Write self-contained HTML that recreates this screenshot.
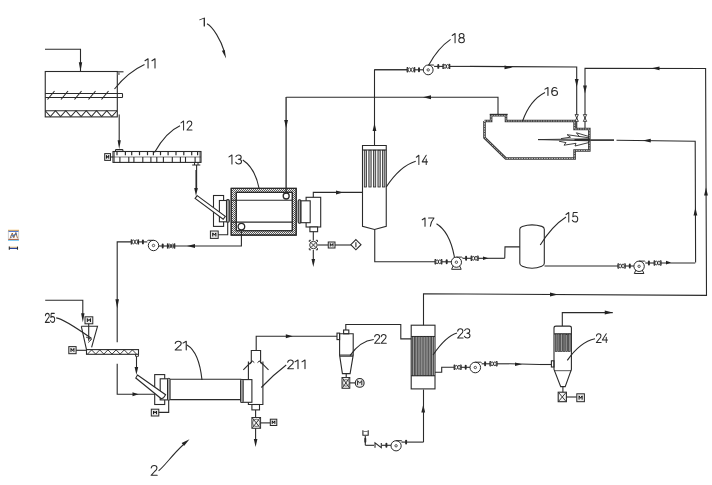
<!DOCTYPE html>
<html><head><meta charset="utf-8"><style>
html,body{margin:0;padding:0;background:#fff;}
svg{display:block;}
text{font-family:"Liberation Sans",sans-serif;fill:#222;stroke:none;}
</style></head><body>
<svg width="712" height="485" viewBox="0 0 712 485" fill="none" stroke="#2a2a2a" stroke-width="1.1">
<defs><pattern id="hatch" width="2" height="2" patternUnits="userSpaceOnUse"><rect width="2" height="2" fill="#ececec" stroke="none"/><rect width="1" height="1" fill="#505050" stroke="none"/><rect x="1" y="1" width="1" height="1" fill="#666" stroke="none"/></pattern></defs>
<rect x="0" y="0" width="712" height="485" fill="#fff" stroke="none"/>
<polyline points="45,49.25 80.5,49.25 80.5,71" fill="none" />
<polygon points="80.50,71.30 78.80,62.30 82.20,62.30" fill="#222" stroke="none"/>
<rect x="45.25" y="71.5" width="72.05" height="45.40" fill="none" />
<line x1="117" y1="71.8" x2="123.5" y2="71.8"/>
<rect x="117.6" y="72.3" width="2.2" height="2.6" fill="#888" stroke="none"/>
<line x1="45.25" y1="93.5" x2="122.5" y2="93.5"/>
<line x1="45.25" y1="97.5" x2="122.5" y2="97.5"/>
<line x1="122.5" y1="93.5" x2="122.5" y2="97.5"/>
<line x1="47.5" y1="99.5" x2="54.5" y2="91"/>
<line x1="61.0" y1="99.5" x2="68.0" y2="91"/>
<line x1="74.5" y1="99.5" x2="81.5" y2="91"/>
<line x1="88.5" y1="99.5" x2="95.5" y2="91"/>
<line x1="101.5" y1="99.5" x2="108.5" y2="91"/>
<line x1="45.25" y1="110.75" x2="117" y2="110.75"/>
<polyline points="45.25,110.75 50.375,116.5 55.5,110.75 60.625,116.5 65.75,110.75 70.875,116.5 76.0,110.75 81.125,116.5 86.25,110.75 91.375,116.5 96.5,110.75 101.625,116.5 106.75,110.75 111.875,116.5 117,110.75" fill="none" />
<path d="M114.5,89 Q128,72 144.5,64.5" />
<g transform="translate(145,58.75) scale(1.0870,1.0278)" stroke-width="0.993" stroke-linecap="round" stroke-linejoin="round"><path transform="translate(0.00,0)" d="M0,1.9 L2.8,0 V9"/><path transform="translate(6.40,0)" d="M0,1.9 L2.8,0 V9"/></g>
<line x1="119.2" y1="114.4" x2="119.2" y2="141"/>
<polygon points="119.20,149.30 117.60,140.30 120.80,140.30" fill="#222" stroke="none"/>
<path d="M115.5,151.5 V150.3 Q115.5,149.6 116.3,149.6 H122.1 Q122.9,149.6 122.9,150.3 V151.5" fill="#fff"/>
<rect x="113" y="151.5" width="88.00" height="10.90" fill="none" />
<line x1="114.2" y1="151.5" x2="114.2" y2="162.4" stroke-width="0.8"/>
<line x1="200" y1="151.5" x2="200" y2="162.4" stroke-width="0.8"/>
<line x1="113" y1="157" x2="201" y2="157" stroke-width="0.6"/>
<line x1="117" y1="151.5" x2="117" y2="155.2" stroke-width="1.2"/>
<line x1="125.4" y1="151.5" x2="125.4" y2="155.2" stroke-width="1.2"/>
<line x1="131.7" y1="151.5" x2="131.7" y2="155.2" stroke-width="1.2"/>
<line x1="139.5" y1="151.5" x2="139.5" y2="155.2" stroke-width="1.2"/>
<line x1="147.5" y1="151.5" x2="147.5" y2="155.2" stroke-width="1.2"/>
<line x1="153.4" y1="151.5" x2="153.4" y2="155.2" stroke-width="1.2"/>
<line x1="160.5" y1="151.5" x2="160.5" y2="155.2" stroke-width="1.2"/>
<line x1="168.1" y1="151.5" x2="168.1" y2="155.2" stroke-width="1.2"/>
<line x1="176" y1="151.5" x2="176" y2="155.2" stroke-width="1.2"/>
<line x1="183.8" y1="151.5" x2="183.8" y2="155.2" stroke-width="1.2"/>
<line x1="191.7" y1="151.5" x2="191.7" y2="155.2" stroke-width="1.2"/>
<line x1="197.6" y1="151.5" x2="197.6" y2="155.2" stroke-width="1.2"/>
<line x1="119.9" y1="157" x2="119.9" y2="162.4" stroke-width="1.1"/>
<line x1="128.8" y1="157" x2="128.8" y2="162.4" stroke-width="1.1"/>
<line x1="133.9" y1="157" x2="133.9" y2="162.4" stroke-width="1.1"/>
<line x1="142.8" y1="157" x2="142.8" y2="162.4" stroke-width="1.1"/>
<line x1="150.9" y1="157" x2="150.9" y2="162.4" stroke-width="1.1"/>
<line x1="156.8" y1="157" x2="156.8" y2="162.4" stroke-width="1.1"/>
<line x1="163.4" y1="157" x2="163.4" y2="162.4" stroke-width="1.1"/>
<line x1="172.3" y1="157" x2="172.3" y2="162.4" stroke-width="1.1"/>
<line x1="180.4" y1="157" x2="180.4" y2="162.4" stroke-width="1.1"/>
<line x1="185.5" y1="157" x2="185.5" y2="162.4" stroke-width="1.1"/>
<line x1="195.1" y1="157" x2="195.1" y2="162.4" stroke-width="1.1"/>
<rect x="104.7" y="153.6" width="5.80" height="6.80" fill="#ececec" stroke-width="1.0"/>
<path d="M106.44,158.63 V155.37 L107.60,157.41 L108.76,155.37 V158.63" stroke-width="1.0" stroke="#111"/>
<line x1="110.5" y1="157" x2="113" y2="157"/>
<path d="M192.2,165 H200.3 M194.5,162.4 V165 M198,162.4 V165" stroke-width="1.0"/>
<line x1="196.6" y1="165" x2="196.6" y2="190"/>
<path d="M154.5,152.5 Q166,132 180,125.75" />
<g transform="translate(181,121) scale(0.9244,1.0000)" stroke-width="1.091" stroke-linecap="round" stroke-linejoin="round"><path transform="translate(0.00,0)" d="M0,1.9 L2.8,0 V9"/><path transform="translate(6.40,0)" d="M0.2,2.3 C0.4,0.7 1.5,0 2.8,0 C4.3,0 5.3,1 5.3,2.4 C5.3,3.7 4.4,4.6 3.2,5.5 L0.1,9 H5.5"/></g>
<path d="M231.2,188.4 H296.2 V235.1 H231.2 Z M236.3,192.4 V230.7 H292.3 V192.4 Z" fill="url(#hatch)" fill-rule="evenodd"/>
<rect x="231.2" y="188.4" width="65.00" height="46.70" fill="none" />
<rect x="236.3" y="192.4" width="56.00" height="38.30" fill="none" />
<line x1="231.2" y1="200.3" x2="292.3" y2="200.3"/>
<line x1="231.2" y1="222.1" x2="292.3" y2="222.1"/>
<circle cx="286.2" cy="196.0" r="3.0" fill="#fff" stroke-width="1.3"/>
<circle cx="241.4" cy="226.6" r="3.3" fill="#fff" stroke-width="1.3"/>
<line x1="286.1" y1="97" x2="286.1" y2="193.2" stroke-width="1.3"/>
<polygon points="286.10,128.00 284.20,120.00 288.00,120.00" fill="#222" stroke="none"/>
<rect x="213.5" y="195.5" width="10.10" height="30.90" fill="#fff" />
<rect x="219.4" y="200.5" width="7.40" height="21.30" fill="#fff" />
<path d="M197.2,195.6 L225.3,216.3 L223.2,219.2 L195.1,198.5 Z" fill="#fff"/>
<line x1="196" y1="170" x2="196" y2="190"/>
<polygon points="196.00,196.00 194.20,188.00 197.80,188.00" fill="#222" stroke="none"/>
<rect x="226.5" y="199.6" width="2.8" height="22.7" rx="1.2" fill="#aaa" stroke-width="1.1"/>
<rect x="210.4" y="231" width="7.80" height="7.40" fill="#ececec" stroke-width="1.0"/>
<path d="M212.74,236.48 V232.92 L214.30,235.14 L215.86,232.92 V236.48" stroke-width="1.0" stroke="#111"/>
<polyline points="218.2,234.7 227.7,234.7 227.7,222.3" fill="none" />
<rect x="298.2" y="199.8" width="2.7" height="23.5" rx="1.2" fill="#aaa" stroke-width="1.1"/>
<rect x="306.1" y="197.3" width="14.60" height="29.70" fill="#fff" />
<rect x="301" y="200.8" width="9.20" height="21.90" fill="#fff" />
<polyline points="313.3,197.3 313.3,192.4 362.5,192.4" fill="none" />
<polygon points="343.00,192.40 336.00,190.40 336.00,194.40" fill="#222" stroke="none"/>
<rect x="309.9" y="227" width="7.70" height="4.70" fill="#fff" />
<line x1="313.3" y1="231.7" x2="313.3" y2="240.5"/>
<circle cx="313.4" cy="245.05" r="3.771999999999995" fill="#f4f4f4" stroke-width="0.9"/>
<line x1="310.73499999999996" y1="242.38500000000002" x2="316.065" y2="247.715" stroke-width="0.9"/>
<line x1="310.73499999999996" y1="247.715" x2="316.065" y2="242.38500000000002" stroke-width="0.9"/>
<path d="M309.3,241.9 V240.3 H310.90000000000003 M315.9,240.3 H317.5 V241.9 M317.5,248.20000000000002 V249.8 H315.9 M310.90000000000003,249.8 H309.3 V248.20000000000002" stroke-width="1.0"/>
<line x1="317.5" y1="245" x2="328.25" y2="245"/>
<rect x="328.25" y="242" width="6.75" height="6.00" fill="#ececec" stroke-width="1.0"/>
<path d="M330.27,246.44 V243.56 L331.62,245.36 L332.98,243.56 V246.44" stroke-width="1.0" stroke="#111"/>
<line x1="335" y1="245" x2="350.8" y2="245"/>
<path d="M355.9,239.6 L361,244.7 L355.9,249.8 L350.8,244.7 Z" fill="#fff"/>
<line x1="355.9" y1="242.3" x2="355.9" y2="247.2"/>
<line x1="313.3" y1="250" x2="313.3" y2="262"/>
<polygon points="313.30,267.00 311.50,259.00 315.10,259.00" fill="#222" stroke="none"/>
<path d="M242.75,160 Q255,168 259,188" />
<g transform="translate(229,155) scale(1.0504,1.0000)" stroke-width="1.024" stroke-linecap="round" stroke-linejoin="round"><path transform="translate(0.00,0)" d="M0,1.9 L2.8,0 V9"/><path transform="translate(6.40,0)" d="M0.2,1.6 C0.8,0.5 1.8,0 2.8,0 C4.2,0 5.2,0.9 5.2,2.2 C5.2,3.5 4.2,4.3 2.5,4.3 C4.4,4.3 5.5,5.3 5.5,6.6 C5.5,8.1 4.3,9 2.8,9 C1.5,9 0.5,8.4 0,7.3"/></g>
<path d="M362.5,145.5 H386.25 V226.25 L374.5,229.5 L362.5,226.25 Z" />
<line x1="362.5" y1="150" x2="386.25" y2="150"/>
<rect x="364.30" y="150.3" width="2.3" height="36.7" fill="#bbb" stroke-width="0.8"/>
<rect x="368.85" y="150.3" width="2.3" height="36.7" fill="#bbb" stroke-width="0.8"/>
<rect x="373.40" y="150.3" width="2.3" height="36.7" fill="#bbb" stroke-width="0.8"/>
<rect x="377.95" y="150.3" width="2.3" height="36.7" fill="#bbb" stroke-width="0.8"/>
<rect x="382.50" y="150.3" width="2.3" height="36.7" fill="#bbb" stroke-width="0.8"/>
<line x1="374.5" y1="69.5" x2="374.5" y2="145.5"/>
<polygon points="374.50,123.00 372.60,131.00 376.40,131.00" fill="#222" stroke="none"/>
<line x1="330" y1="192.5" x2="362.5" y2="192.5"/>
<path d="M386.25,187 Q400,166 415.75,161.25" />
<g transform="translate(416.3,155.3) scale(0.9180,1.0222)" stroke-width="1.082" stroke-linecap="round" stroke-linejoin="round"><path transform="translate(0.00,0)" d="M0,1.9 L2.8,0 V9"/><path transform="translate(6.40,0)" d="M4.4,0 L0,6.4 H5.8 M4.4,3.6 V9"/></g>
<polyline points="498,114.5 498,97.25 286.25,97.25" fill="none" />
<polygon points="423.00,97.25 431.00,95.35 431.00,99.15" fill="#222" stroke="none"/>
<line x1="374.5" y1="69.8" x2="407.2" y2="69.8"/>
<line x1="374.5" y1="69.8" x2="407.2" y2="69.8"/>
<path d="M407.2,67.3 V72.3 M414.7,67.3 V72.3 M407.2,67.7 H408.09999999999997 M407.2,71.89999999999999 H408.09999999999997 M414.7,67.7 H413.8 M414.7,71.89999999999999 H413.8" stroke-width="1.2"/>
<ellipse cx="409.45" cy="69.8" rx="1.35" ry="1.90" stroke-width="0.9"/>
<ellipse cx="412.45" cy="69.8" rx="1.35" ry="1.90" stroke-width="0.9"/>
<line x1="414.7" y1="69.8" x2="423.3" y2="69.8"/>
<line x1="419" y1="68.3" x2="419" y2="71.3" stroke-width="1.9" stroke-linecap="round"/>
<circle cx="428.2" cy="69.9" r="4.9" fill="none" stroke-width="1.0"/>
<circle cx="428.2" cy="69.9" r="1.2" fill="none" stroke-width="0.8"/>
<path d="M428.2,65.0 H433.09999999999997 Q433.7,65.0 434.09999999999997,65.4" stroke-width="1.0"/>
<line x1="434.09999999999997" y1="66.4" x2="443" y2="66.4"/>
<line x1="438.3" y1="64.9" x2="438.3" y2="67.9" stroke-width="1.9" stroke-linecap="round"/>
<path d="M443,63.900000000000006 V68.9 M449.7,63.900000000000006 V68.9 M443,64.30000000000001 H443.9 M443,68.5 H443.9 M449.7,64.30000000000001 H448.8 M449.7,68.5 H448.8" stroke-width="1.2"/>
<ellipse cx="445.01" cy="66.4" rx="1.34" ry="1.90" stroke-width="0.9"/>
<ellipse cx="447.69" cy="66.4" rx="1.34" ry="1.90" stroke-width="0.9"/>
<line x1="449.7" y1="66.4" x2="470" y2="66.4"/>
<polyline points="470,66.4 576.7,67 576.7,129" fill="none" />
<polygon points="512.50,67.40 504.50,65.50 504.50,69.30" fill="#222" stroke="none"/>
<polygon points="576.70,87.00 574.80,79.00 578.60,79.00" fill="#222" stroke="none"/>
<polygon points="585.00,93.50 583.10,85.50 586.90,85.50" fill="#222" stroke="none"/>
<path d="M428.6,65.2 Q438,48 450.6,39.4" />
<g transform="translate(452.2,33.5) scale(1.0252,1.0278)" stroke-width="1.023" stroke-linecap="round" stroke-linejoin="round"><path transform="translate(0.00,0)" d="M0,1.9 L2.8,0 V9"/><path transform="translate(6.40,0)" d="M2.75,4.2 C1.3,4.2 0.4,3.3 0.4,2.1 C0.4,0.9 1.4,0 2.75,0 C4.1,0 5.1,0.9 5.1,2.1 C5.1,3.3 4.2,4.2 2.75,4.2 C1.1,4.2 0,5.2 0,6.6 C0,8 1.1,9 2.75,9 C4.4,9 5.5,8 5.5,6.6 C5.5,5.2 4.4,4.2 2.75,4.2 Z"/></g>
<polyline points="585,129 585,68.2 705.6,68.5 706.5,295.4 423.5,293.7 423.5,325.2" fill="none" />
<polygon points="651.50,68.30 659.50,66.40 659.50,70.20" fill="#222" stroke="none"/>
<polygon points="706.00,187.50 704.10,195.50 707.90,195.50" fill="#222" stroke="none"/>
<polygon points="558.00,294.50 550.00,292.60 550.00,296.40" fill="#222" stroke="none"/>
<polyline points="484.5,121.0 491.1,121.0 491.1,115.3 506.0,115.3 506.0,121.0 574.6,121.0 574.6,129.0 589.3,129.0 589.3,150.5 574.6,150.5 574.6,158.5 505.8,158.5 484.5,137.6 484.5,121.0" fill="none" stroke="#3a3a3a" stroke-width="2.6" stroke-linejoin="miter"/>
<polyline points="484.5,121.0 491.1,121.0 491.1,115.3 506.0,115.3 506.0,121.0 574.6,121.0 574.6,129.0 589.3,129.0 589.3,150.5 574.6,150.5 574.6,158.5 505.8,158.5 484.5,137.6 484.5,121.0" fill="none" stroke="#d8d8d8" stroke-width="0.8" stroke-dasharray="1.6 0.9" stroke-linejoin="miter"/>
<line x1="489.8" y1="114.3" x2="507.7" y2="114.3" stroke-width="1.0"/>
<path d="M575.0,114.6 H578.4000000000001 L575.0,121.4 H578.4000000000001 Z" fill="#fff" stroke-width="0.85"/>
<path d="M583.3,114.6 H586.7 L583.3,121.4 H586.7 Z" fill="#fff" stroke-width="0.85"/>
<path d="M590,138.8 L538,139.6 L590,140.8" fill="none" stroke-width="0.9"/>
<path d="M589,136.5 L576.4,132.8 L579.5,136.8 M589,137.8 L567.1,134.7 L570.5,137.2 L561,138.6" fill="none" stroke-width="0.9"/>
<path d="M589,142.5 L575,146 L576,143.3 L564,145.2 L566,142.6 L559,141.2" fill="none" stroke-width="0.9"/>
<line x1="574.5" y1="139.9" x2="590" y2="139.9" stroke-width="1.8"/>
<polyline points="590.25,140.1 614,140.1" fill="none" stroke-width="1.6"/>
<polyline points="616.5,140.3 695.2,141.2 695.6,262.5" fill="none" />
<polygon points="642.75,140.60 650.75,138.70 650.75,142.50" fill="#222" stroke="none"/>
<polygon points="695.40,207.50 693.50,215.50 697.30,215.50" fill="#222" stroke="none"/>
<path d="M522.5,121.25 Q530,100 545,92.5" />
<g transform="translate(545,87.5) scale(1.0504,0.8889)" stroke-width="1.083" stroke-linecap="round" stroke-linejoin="round"><path transform="translate(0.00,0)" d="M0,1.9 L2.8,0 V9"/><path transform="translate(6.40,0)" d="M4.8,0.9 C4.2,0.3 3.5,0 2.8,0 C1,0 0,1.9 0,4.8 C0,7.5 1.1,9 2.8,9 C4.4,9 5.5,7.8 5.5,6.1 C5.5,4.4 4.4,3.3 2.8,3.3 C1.4,3.3 0.3,4.2 0,5.5"/></g>
<path d="M519.8,229.3 Q519.8,227.2 522.3,226.4 Q532,223.4 541.8,226.4 Q544.3,227.2 544.3,229.3 V263.3 Q544.3,265.4 541.8,266.3 Q532,270.2 522.3,266.3 Q519.8,265.4 519.8,263.3 Z" />
<line x1="544.5" y1="266" x2="618" y2="266"/>
<path d="M618,263.5 V268.5 M625.2,263.5 V268.5 M618,263.9 H618.9 M618,268.1 H618.9 M625.2,263.9 H624.3000000000001 M625.2,268.1 H624.3000000000001" stroke-width="1.2"/>
<ellipse cx="620.16" cy="266" rx="1.35" ry="1.90" stroke-width="0.9"/>
<ellipse cx="623.04" cy="266" rx="1.35" ry="1.90" stroke-width="0.9"/>
<line x1="625.2" y1="266" x2="633.9" y2="266"/>
<line x1="629.8" y1="264.5" x2="629.8" y2="267.5" stroke-width="1.9" stroke-linecap="round"/>
<circle cx="639.1" cy="266.3" r="5.2" fill="none" stroke-width="1.0"/>
<circle cx="639.1" cy="266.3" r="1.2" fill="none" stroke-width="0.8"/>
<path d="M639.1,261.1 H644.3000000000001 Q644.9,261.1 645.3000000000001,261.5" stroke-width="1.0"/>
<path d="M635.9,270.0 L634.3000000000001,273.5 H643.9 L642.3000000000001,270.0" stroke-width="1.0"/>
<line x1="645.3000000000001" y1="263" x2="654.2" y2="263"/>
<line x1="648.9" y1="261.5" x2="648.9" y2="264.5" stroke-width="1.9" stroke-linecap="round"/>
<path d="M654.2,260.5 V265.5 M661,260.5 V265.5 M654.2,260.9 H655.1 M654.2,265.1 H655.1 M661,260.9 H660.1 M661,265.1 H660.1" stroke-width="1.2"/>
<ellipse cx="656.24" cy="263" rx="1.35" ry="1.90" stroke-width="0.9"/>
<ellipse cx="658.96" cy="263" rx="1.35" ry="1.90" stroke-width="0.9"/>
<line x1="661" y1="263" x2="695.25" y2="263"/>
<polygon points="671.00,262.60 666.00,260.80 666.00,264.40" fill="#222" stroke="none"/>
<path d="M540.25,245 Q552,226 566,217" />
<g transform="translate(566,212.5) scale(0.9874,1.0556)" stroke-width="1.028" stroke-linecap="round" stroke-linejoin="round"><path transform="translate(0.00,0)" d="M0,1.9 L2.8,0 V9"/><path transform="translate(6.40,0)" d="M5,0 H1 L0.5,4 C1.2,3.5 2,3.3 2.8,3.3 C4.4,3.3 5.5,4.4 5.5,6.1 C5.5,7.8 4.3,9 2.7,9 C1.4,9 0.4,8.3 0,7.3"/></g>
<polyline points="374.75,229.5 374.75,261.8 435.1,261.8" fill="none" />
<line x1="435.1" y1="261.8" x2="435.1" y2="261.8"/>
<path d="M435.1,259.3 V264.3 M441.8,259.3 V264.3 M435.1,259.7 H436.0 M435.1,263.90000000000003 H436.0 M441.8,259.7 H440.90000000000003 M441.8,263.90000000000003 H440.90000000000003" stroke-width="1.2"/>
<ellipse cx="437.11" cy="261.8" rx="1.34" ry="1.90" stroke-width="0.9"/>
<ellipse cx="439.79" cy="261.8" rx="1.34" ry="1.90" stroke-width="0.9"/>
<line x1="441.8" y1="261.8" x2="451.29999999999995" y2="261.8"/>
<line x1="446.7" y1="260.3" x2="446.7" y2="263.3" stroke-width="1.9" stroke-linecap="round"/>
<circle cx="456.4" cy="262.2" r="5.1" fill="none" stroke-width="1.0"/>
<circle cx="456.4" cy="262.2" r="1.2" fill="none" stroke-width="0.8"/>
<path d="M456.4,257.09999999999997 H461.5 Q462.09999999999997,257.09999999999997 462.5,257.49999999999994" stroke-width="1.0"/>
<path d="M453.2,265.8 L451.59999999999997,269.3 H461.2 L459.59999999999997,265.8" stroke-width="1.0"/>
<line x1="462.5" y1="258.3" x2="471.2" y2="258.3"/>
<line x1="466.1" y1="256.8" x2="466.1" y2="259.8" stroke-width="1.9" stroke-linecap="round"/>
<path d="M471.2,255.8 V260.8 M478.1,255.8 V260.8 M471.2,256.2 H472.09999999999997 M471.2,260.40000000000003 H472.09999999999997 M478.1,256.2 H477.20000000000005 M478.1,260.40000000000003 H477.20000000000005" stroke-width="1.2"/>
<ellipse cx="473.27" cy="258.3" rx="1.35" ry="1.90" stroke-width="0.9"/>
<ellipse cx="476.03" cy="258.3" rx="1.35" ry="1.90" stroke-width="0.9"/>
<line x1="478.1" y1="258.3" x2="504.75" y2="258.3"/>
<polyline points="504.75,258.3 505,246.9 519.8,246.9" fill="none" />
<polygon points="488.50,258.30 483.00,256.50 483.00,260.10" fill="#222" stroke="none"/>
<path d="M436.5,223.75 Q450,232 454.5,257.6" />
<g transform="translate(422.25,218) scale(0.9874,0.9167)" stroke-width="1.103" stroke-linecap="round" stroke-linejoin="round"><path transform="translate(0.00,0)" d="M0,1.9 L2.8,0 V9"/><path transform="translate(6.40,0)" d="M0,0 H5.5 C3.5,2.5 2.2,5.5 1.8,9"/></g>
<polyline points="241.4,229.9 241.4,246 174.7,246" fill="none" />
<polygon points="187.00,246.00 195.00,244.10 195.00,247.90" fill="#222" stroke="none"/>
<line x1="174.7" y1="246" x2="167.5" y2="246"/>
<path d="M167.5,243.5 V248.5 M174.7,243.5 V248.5 M167.5,243.9 H168.4 M167.5,248.1 H168.4 M174.7,243.9 H173.79999999999998 M174.7,248.1 H173.79999999999998" stroke-width="1.2"/>
<ellipse cx="169.66" cy="246" rx="1.35" ry="1.90" stroke-width="0.9"/>
<ellipse cx="172.54" cy="246" rx="1.35" ry="1.90" stroke-width="0.9"/>
<line x1="167.5" y1="246" x2="158.7" y2="246"/>
<line x1="162.7" y1="244.5" x2="162.7" y2="247.5" stroke-width="1.9" stroke-linecap="round"/>
<circle cx="153.5" cy="245.5" r="5.2" fill="none" stroke-width="1.0"/>
<circle cx="153.5" cy="245.5" r="1.2" fill="none" stroke-width="0.8"/>
<path d="M153.5,240.3 H148.3 Q147.7,240.3 147.3,240.70000000000002" stroke-width="1.0"/>
<line x1="147.3" y1="241.9" x2="138.5" y2="241.9"/>
<line x1="142.9" y1="240.4" x2="142.9" y2="243.4" stroke-width="1.9" stroke-linecap="round"/>
<path d="M131.3,239.4 V244.4 M138.5,239.4 V244.4 M131.3,239.8 H132.20000000000002 M131.3,244.0 H132.20000000000002 M138.5,239.8 H137.6 M138.5,244.0 H137.6" stroke-width="1.2"/>
<ellipse cx="133.46" cy="241.9" rx="1.35" ry="1.90" stroke-width="0.9"/>
<ellipse cx="136.34" cy="241.9" rx="1.35" ry="1.90" stroke-width="0.9"/>
<line x1="131.3" y1="241.9" x2="131.3" y2="241.9"/>
<polyline points="131.2,241.9 117.2,241.9 117.2,342.2" fill="none" />
<polyline points="117.2,363.75 117.2,394.3 154.7,394.3" fill="none" />
<polygon points="117.20,308.30 115.40,299.30 119.00,299.30" fill="#222" stroke="none"/>
<polygon points="138.50,394.30 132.50,392.30 132.50,396.30" fill="#222" stroke="none"/>
<polyline points="45.2,300.2 82.8,300.2 82.8,314" fill="none" />
<polygon points="82.80,322.30 81.10,313.30 84.50,313.30" fill="#222" stroke="none"/>
<rect x="85" y="316.8" width="7.80" height="7.00" fill="#ececec" stroke-width="1.0"/>
<path d="M87.34,321.98 V318.62 L88.90,320.72 L90.46,318.62 V321.98" stroke-width="1.0" stroke="#111"/>
<line x1="88.7" y1="323.8" x2="88.7" y2="340.7"/>
<path d="M81.3,326.3 H97.5 L91.6,347.4 M81.3,326.3 L86.5,349.6" />
<path d="M86,337 L91.5,339.5 L88.2,342.5" stroke-width="0.9"/>
<rect x="86.5" y="349.6" width="52.00" height="4.70" fill="none" />
<polyline points="87.5,354.1 91.58333333333333,349.9 95.66666666666667,354.1 99.75,349.9 103.83333333333333,354.1 107.91666666666666,349.9 112.0,354.1 116.08333333333333,349.9 120.16666666666666,354.1 124.25,349.9 128.33333333333331,354.1 132.41666666666666,349.9 136.5,354.1" fill="none" stroke-width="0.9"/>
<path d="M135.5,354.3 V356.3 H138.5 V354.3" stroke-width="0.9"/>
<line x1="136.5" y1="356.3" x2="136.5" y2="368"/>
<polygon points="136.40,375.00 134.60,367.00 138.20,367.00" fill="#222" stroke="none"/>
<rect x="68.8" y="346.6" width="7.30" height="7.10" fill="#ececec" stroke-width="1.0"/>
<path d="M70.99,351.85 V348.45 L72.45,350.58 L73.91,348.45 V351.85" stroke-width="1.0" stroke="#111"/>
<line x1="76.1" y1="350.3" x2="86.5" y2="350.3"/>
<path d="M56.2,317.9 Q63,318.5 91.6,338.5" />
<g transform="translate(45.2,313.4) scale(0.7724,0.9889)" stroke-width="1.192" stroke-linecap="round" stroke-linejoin="round"><path transform="translate(0.00,0)" d="M0.2,2.3 C0.4,0.7 1.5,0 2.8,0 C4.3,0 5.3,1 5.3,2.4 C5.3,3.7 4.4,4.6 3.2,5.5 L0.1,9 H5.5"/><path transform="translate(6.80,0)" d="M5,0 H1 L0.5,4 C1.2,3.5 2,3.3 2.8,3.3 C4.4,3.3 5.5,4.4 5.5,6.1 C5.5,7.8 4.3,9 2.7,9 C1.4,9 0.4,8.3 0,7.3"/></g>
<rect x="154.7" y="374.6" width="10.00" height="29.90" fill="#fff" />
<rect x="160.2" y="378.8" width="7.70" height="21.10" fill="#fff" />
<path d="M137.5,375 L165.6,394.7 L163.5,397.8 L161.3,398.8 L135.8,378 Z" fill="#fff"/>
<rect x="167.5" y="378.4" width="2.6" height="21.8" rx="1" fill="#aaa" stroke-width="1.0"/>
<line x1="170.1" y1="379.2" x2="241" y2="379.2"/>
<line x1="170.1" y1="399.6" x2="241" y2="399.6"/>
<rect x="151.3" y="409.2" width="7.50" height="6.80" fill="#ececec" stroke-width="1.0"/>
<path d="M153.55,414.23 V410.97 L155.05,413.01 L156.55,410.97 V414.23" stroke-width="1.0" stroke="#111"/>
<polyline points="158.8,412.4 168.7,412.4 168.7,400.2" fill="none" />
<path d="M187,345 Q199,352 202,380" />
<g transform="translate(175,341.25) scale(1.1719,0.9722)" stroke-width="0.979" stroke-linecap="round" stroke-linejoin="round"><path transform="translate(0.00,0)" d="M0.2,2.3 C0.4,0.7 1.5,0 2.8,0 C4.3,0 5.3,1 5.3,2.4 C5.3,3.7 4.4,4.6 3.2,5.5 L0.1,9 H5.5"/><path transform="translate(6.80,0)" d="M0,1.9 L2.8,0 V9"/></g>
<path d="M248.4,361.5 V404.5 H262.9 V361.5" fill="#fff"/>
<rect x="241.1" y="379.6" width="10.80" height="22.70" fill="#fff" />
<rect x="240.6" y="379.4" width="2.6" height="23.1" rx="1" fill="#aaa" stroke-width="1.0"/>
<path d="M251.3,361.5 V350.5 H260.6 V361.5" />
<line x1="252" y1="361.2" x2="243.3" y2="369.8"/>
<line x1="259.8" y1="361.2" x2="268.5" y2="369.8"/>
<path d="M250.2,364.2 L252.3,360.9 L254.3,362.6 M261.6,364.2 L259.5,360.9 L257.5,362.6" stroke-width="1.0"/>
<rect x="251.9" y="404.5" width="7.60" height="5.40" fill="#fff" />
<line x1="255.6" y1="409.9" x2="255.6" y2="417.5"/>
<rect x="251.9" y="417.5" width="8.70" height="10.80" fill="#f0f0f0" stroke-width="0.95"/>
<circle cx="256.25" cy="422.9" r="3.6975000000000073" fill="none" stroke-width="0.6"/>
<line x1="252.3" y1="417.9" x2="260.20000000000005" y2="427.90000000000003" stroke-width="0.9"/>
<line x1="252.3" y1="427.90000000000003" x2="260.20000000000005" y2="417.9" stroke-width="0.9"/>
<line x1="260.6" y1="422.9" x2="270.3" y2="422.9"/>
<rect x="270.3" y="419.2" width="6.50" height="6.30" fill="#ececec" stroke-width="1.0"/>
<path d="M272.25,423.86 V420.84 L273.55,422.73 L274.85,420.84 V423.86" stroke-width="1.0" stroke="#111"/>
<line x1="255.6" y1="428.3" x2="255.6" y2="440"/>
<polygon points="255.60,447.00 253.80,439.00 257.40,439.00" fill="#222" stroke="none"/>
<polyline points="256.2,350.5 256.2,336.3 337,336.3" fill="none" />
<polygon points="292.80,336.30 285.80,334.30 285.80,338.30" fill="#222" stroke="none"/>
<path d="M261.3,387.5 Q273,375 286.2,365" />
<g transform="translate(287.5,360) scale(1.0938,0.9722)" stroke-width="1.016" stroke-linecap="round" stroke-linejoin="round"><path transform="translate(0.00,0)" d="M0.2,2.3 C0.4,0.7 1.5,0 2.8,0 C4.3,0 5.3,1 5.3,2.4 C5.3,3.7 4.4,4.6 3.2,5.5 L0.1,9 H5.5"/><path transform="translate(6.80,0)" d="M0,1.9 L2.8,0 V9"/><path transform="translate(13.20,0)" d="M0,1.9 L2.8,0 V9"/></g>
<rect x="337" y="333.1" width="2.60" height="6.50" fill="#fff" />
<path d="M339.6,333.8 H353.2 V355.1 L350.1,373.6 H342.4 L339.6,355.1 Z" />
<line x1="339.6" y1="355.1" x2="353.2" y2="355.1"/>
<line x1="339.8" y1="356.4" x2="353" y2="356.4" stroke-width="0.8"/>
<rect x="343.6" y="330" width="5.20" height="3.80" fill="none" />
<polyline points="345.8,330 345.8,324.5 400.8,324.5 400.8,338.9 411.2,338.9" fill="none" />
<line x1="346.2" y1="373.6" x2="346.2" y2="377.5"/>
<rect x="342" y="377.5" width="7.80" height="10.80" fill="#f0f0f0" stroke-width="0.95"/>
<circle cx="345.9" cy="382.9" r="3.315000000000005" fill="none" stroke-width="0.6"/>
<line x1="342.4" y1="377.9" x2="349.40000000000003" y2="387.90000000000003" stroke-width="0.9"/>
<line x1="342.4" y1="387.90000000000003" x2="349.40000000000003" y2="377.9" stroke-width="0.9"/>
<line x1="349.8" y1="382.9" x2="355.3" y2="382.9"/>
<circle cx="359.7" cy="382.9" r="4.4" fill="#eee" />
<path d="M357.6,385.2 V380.6 L359.7,383.2 L361.8,380.6 V385.2" stroke-width="1.0"/>
<path d="M350,355.6 Q360,341 373.75,339.5" />
<g transform="translate(374.5,334.5) scale(0.9553,0.9722)" stroke-width="1.089" stroke-linecap="round" stroke-linejoin="round"><path transform="translate(0.00,0)" d="M0.2,2.3 C0.4,0.7 1.5,0 2.8,0 C4.3,0 5.3,1 5.3,2.4 C5.3,3.7 4.4,4.6 3.2,5.5 L0.1,9 H5.5"/><path transform="translate(6.80,0)" d="M0.2,2.3 C0.4,0.7 1.5,0 2.8,0 C4.3,0 5.3,1 5.3,2.4 C5.3,3.7 4.4,4.6 3.2,5.5 L0.1,9 H5.5"/></g>
<rect x="411.2" y="325.2" width="23.80" height="63.70" fill="none" />
<line x1="411.2" y1="336.5" x2="435" y2="336.5"/>
<line x1="411.2" y1="375.7" x2="435" y2="375.7"/>
<rect x="412.60" y="336.5" width="2.0" height="39.2" fill="#999" stroke-width="0.75"/>
<rect x="415.73" y="336.5" width="2.0" height="39.2" fill="#999" stroke-width="0.75"/>
<rect x="418.86" y="336.5" width="2.0" height="39.2" fill="#999" stroke-width="0.75"/>
<rect x="421.99" y="336.5" width="2.0" height="39.2" fill="#999" stroke-width="0.75"/>
<rect x="425.12" y="336.5" width="2.0" height="39.2" fill="#999" stroke-width="0.75"/>
<rect x="428.25" y="336.5" width="2.0" height="39.2" fill="#999" stroke-width="0.75"/>
<rect x="431.38" y="336.5" width="2.0" height="39.2" fill="#999" stroke-width="0.75"/>
<polygon points="423.25,404.50 421.35,412.50 425.15,412.50" fill="#222" stroke="none"/>
<polyline points="435,372.2 441.7,372.2 441.7,367.3 454.2,367.3" fill="none" />
<line x1="454.2" y1="367.3" x2="454.2" y2="367.3"/>
<path d="M454.2,364.8 V369.8 M461.1,364.8 V369.8 M454.2,365.2 H455.09999999999997 M454.2,369.40000000000003 H455.09999999999997 M461.1,365.2 H460.20000000000005 M461.1,369.40000000000003 H460.20000000000005" stroke-width="1.2"/>
<ellipse cx="456.27" cy="367.3" rx="1.35" ry="1.90" stroke-width="0.9"/>
<ellipse cx="459.03" cy="367.3" rx="1.35" ry="1.90" stroke-width="0.9"/>
<line x1="461.1" y1="367.3" x2="470.0" y2="367.3"/>
<line x1="465.7" y1="365.8" x2="465.7" y2="368.8" stroke-width="1.9" stroke-linecap="round"/>
<circle cx="475.3" cy="367.5" r="5.3" fill="none" stroke-width="1.0"/>
<circle cx="475.3" cy="367.5" r="1.2" fill="none" stroke-width="0.8"/>
<path d="M475.3,362.2 H480.6 Q481.2,362.2 481.6,362.59999999999997" stroke-width="1.0"/>
<line x1="481.6" y1="363.8" x2="490" y2="363.8"/>
<line x1="485.1" y1="362.3" x2="485.1" y2="365.3" stroke-width="1.9" stroke-linecap="round"/>
<path d="M490,361.3 V366.3 M497,361.3 V366.3 M490,361.7 H490.9 M490,365.90000000000003 H490.9 M497,361.7 H496.1 M497,365.90000000000003 H496.1" stroke-width="1.2"/>
<ellipse cx="492.10" cy="363.8" rx="1.35" ry="1.90" stroke-width="0.9"/>
<ellipse cx="494.90" cy="363.8" rx="1.35" ry="1.90" stroke-width="0.9"/>
<line x1="497" y1="363.8" x2="510" y2="363.8"/>
<line x1="510" y1="363.8" x2="540" y2="364.5"/>
<polygon points="522.00,364.30 515.00,362.50 515.00,366.10" fill="#222" stroke="none"/>
<path d="M433,355 Q446,336 457,333" />
<g transform="translate(457.5,328.75) scale(1.0163,1.0278)" stroke-width="1.027" stroke-linecap="round" stroke-linejoin="round"><path transform="translate(0.00,0)" d="M0.2,2.3 C0.4,0.7 1.5,0 2.8,0 C4.3,0 5.3,1 5.3,2.4 C5.3,3.7 4.4,4.6 3.2,5.5 L0.1,9 H5.5"/><path transform="translate(6.80,0)" d="M0.2,1.6 C0.8,0.5 1.8,0 2.8,0 C4.2,0 5.2,0.9 5.2,2.2 C5.2,3.5 4.2,4.3 2.5,4.3 C4.4,4.3 5.5,5.3 5.5,6.6 C5.5,8.1 4.3,9 2.8,9 C1.5,9 0.5,8.4 0,7.3"/></g>
<path d="M554,369.5 V328 Q554,326.1 556,326.1 H569.4 Q571.4,326.1 571.4,328 V369.5 L565.2,386.6 H560.7 Z" />
<line x1="554" y1="333.9" x2="571.4" y2="333.9"/>
<line x1="554" y1="370.7" x2="571.4" y2="370.7" stroke-width="0.8"/>
<rect x="555.30" y="333.9" width="1.8" height="17.6" fill="#999" stroke-width="0.7"/>
<rect x="557.92" y="333.9" width="1.8" height="17.6" fill="#999" stroke-width="0.7"/>
<rect x="560.54" y="333.9" width="1.8" height="17.6" fill="#999" stroke-width="0.7"/>
<rect x="563.16" y="333.9" width="1.8" height="17.6" fill="#999" stroke-width="0.7"/>
<rect x="565.78" y="333.9" width="1.8" height="17.6" fill="#999" stroke-width="0.7"/>
<rect x="568.40" y="333.9" width="1.8" height="17.6" fill="#999" stroke-width="0.7"/>
<rect x="551.4" y="360.8" width="2.60" height="6.20" fill="none" />
<line x1="540" y1="364.5" x2="551.4" y2="364.5"/>
<line x1="562.9" y1="386.6" x2="562.9" y2="392.2"/>
<rect x="558.2" y="392.2" width="8.20" height="9.50" fill="#f2f2f2" />
<line x1="559" y1="393" x2="565.6" y2="400.9" stroke-width="0.9"/>
<line x1="559" y1="400.9" x2="565.6" y2="393" stroke-width="0.9"/>
<line x1="566.4" y1="397" x2="576.8" y2="397"/>
<rect x="576.8" y="393.8" width="7.60" height="7.90" fill="#ececec" stroke-width="1.0"/>
<path d="M579.08,399.65 V395.85 L580.60,398.22 L582.12,395.85 V399.65" stroke-width="1.0" stroke="#111"/>
<polyline points="562.3,326.1 562.3,312.6 612.75,312.6" fill="none" />
<polygon points="612.75,312.60 604.75,310.60 604.75,314.60" fill="#222" stroke="none"/>
<path d="M567.3,360.4 Q580,342 595,338.75" />
<g transform="translate(596.25,333.75) scale(0.8929,0.9722)" stroke-width="1.126" stroke-linecap="round" stroke-linejoin="round"><path transform="translate(0.00,0)" d="M0.2,2.3 C0.4,0.7 1.5,0 2.8,0 C4.3,0 5.3,1 5.3,2.4 C5.3,3.7 4.4,4.6 3.2,5.5 L0.1,9 H5.5"/><path transform="translate(6.80,0)" d="M4.4,0 L0,6.4 H5.8 M4.4,3.6 V9"/></g>
<line x1="423.5" y1="389.5" x2="423.5" y2="442.1"/>
<line x1="423.5" y1="442.1" x2="401.4" y2="442.1"/>
<line x1="406.1" y1="440.6" x2="406.1" y2="443.6" stroke-width="1.9" stroke-linecap="round"/>
<circle cx="396.1" cy="445.8" r="5.1" fill="none" stroke-width="1.0"/>
<circle cx="396.1" cy="445.8" r="1.2" fill="none" stroke-width="0.8"/>
<path d="M396.1,440.7 H401.20000000000005 Q401.8,440.7 402.20000000000005,441.09999999999997" stroke-width="1.0"/>
<line x1="391" y1="445.3" x2="365.3" y2="445.3"/>
<line x1="386.4" y1="443.8" x2="386.4" y2="446.8" stroke-width="1.9" stroke-linecap="round"/>
<rect x="374" y="443" width="8" height="4.5" fill="#fff" stroke="none"/>
<path d="M375,447.7 V442.9 L381.3,447.7 V442.9" fill="none"/>
<line x1="365.3" y1="445.3" x2="365.3" y2="436"/>
<line x1="365.3" y1="438.8" x2="365.3" y2="441.8" stroke-width="1.9" stroke-linecap="round"/>
<path d="M362.9,430.3 V435.3 H368.2 V430.3" fill="none"/>
<line x1="363.5" y1="431.5" x2="367.6" y2="431.5" stroke-width="0.6"/>
<g transform="translate(199.9,18) scale(1.5714,0.9111)" stroke-width="0.846" stroke-linecap="round" stroke-linejoin="round"><path transform="translate(0.00,0)" d="M0,1.9 L2.8,0 V9"/></g>
<path d="M207,23.8 C213,27 221,40 224.5,52" stroke-width="1.05"/>
<polygon points="226.10,58.40 221.88,50.87 224.71,49.88" fill="#222" stroke="none"/>
<g transform="translate(151,465.5) scale(1.1273,1.0889)" stroke-width="0.948" stroke-linecap="round" stroke-linejoin="round"><path transform="translate(0.00,0)" d="M0.2,2.3 C0.4,0.7 1.5,0 2.8,0 C4.3,0 5.3,1 5.3,2.4 C5.3,3.7 4.4,4.6 3.2,5.5 L0.1,9 H5.5"/></g>
<path d="M158.6,470.7 C164,467 172,455 183,445" stroke-width="1.05"/>
<polygon points="189.50,439.30 183.97,446.03 181.63,443.03" fill="#222" stroke="none"/>
<g stroke-linecap="butt">
<line x1="8" y1="230.3" x2="19" y2="230.3" stroke-width="1.0" stroke="#f0a838"/>
<line x1="8" y1="231.3" x2="19" y2="231.3" stroke-width="1.0" stroke="#2a5cc8"/>
<line x1="8" y1="239.4" x2="19" y2="239.4" stroke-width="1.0" stroke="#a8502a"/>
<line x1="8" y1="240.4" x2="19" y2="240.4" stroke-width="1.0" stroke="#7cc8f0"/>
<line x1="8.4" y1="231" x2="8.4" y2="239.6" stroke-width="0.7" stroke="#bbb"/>
<line x1="18.6" y1="231" x2="18.6" y2="239.6" stroke-width="0.7" stroke="#bbb"/>
<path d="M10,238.5 L12.3,233 L13.8,237.8 L15.8,232.5 L17.5,238.3" stroke-width="0.9" stroke="#8a5a30"/>
<path d="M10.5,236 L17.2,234.2 M11.2,237.8 L16.8,233" stroke-width="0.7" stroke="#3a6ab0"/>
</g>
<line x1="9.3" y1="248.3" x2="17.5" y2="248.3" stroke-width="1.3" stroke="#1c3c9c"/>
<line x1="9.5" y1="247.2" x2="17.3" y2="247.2" stroke-width="0.7" stroke="#e8b050"/>
<line x1="9.3" y1="246.6" x2="9.3" y2="249.7" stroke-width="1.1"/>
<line x1="17.5" y1="246.6" x2="17.5" y2="249.7" stroke-width="1.1"/>
</svg>
</body></html>
